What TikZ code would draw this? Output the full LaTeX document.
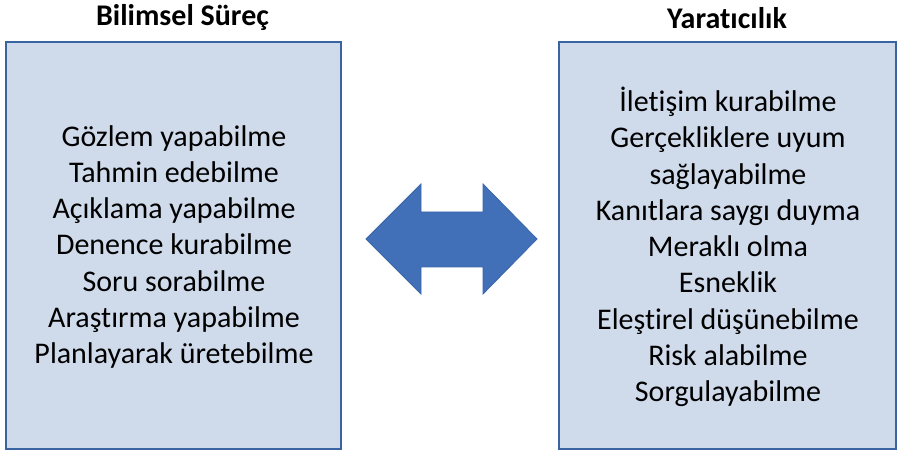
\documentclass[tikz,border=0pt]{standalone}
\usepackage{fontspec}
\setmainfont[Ligatures=NoCommon]{Carlito}
\definecolor{boxfill}{HTML}{CFDAEB}
\definecolor{boxline}{HTML}{3A64A0}
\definecolor{arrowfill}{HTML}{4170B8}
\definecolor{arrowline}{HTML}{3A66A8}
\tikzset{
  panel/.style={draw=boxline, fill=boxfill, line width=2.5pt},
  title/.style={font=\bfseries\fontsize{30}{36}\selectfont, inner sep=0pt},
  items/.style={font=\fontsize{30}{36.3}\selectfont, align=center, inner sep=0pt},
}
\begin{document}
\begin{tikzpicture}[x=1pt,y=1pt]
\useasboundingbox (0,0) rectangle (898,455);
\draw[panel] (6,6) rectangle (341,413);
\draw[panel] (559,6) rectangle (896,413);
\node[title] (t1) at (182.5,437) {Bilimsel Süreç};
\node[title] (t2) at (727,437) {Yaratıcılık};
\node[items] (l1) at (174,208) {Gözlem yapabilme\\Tahmin edebilme\\Açıklama yapabilme\\Denence kurabilme\\Soru sorabilme\\Araştırma yapabilme\\Planlayarak üretebilme};
\node[items] (r1) at (728,208) {İletişim kurabilme\\Gerçekliklere uyum\\sağlayabilme\\Kanıtlara saygı duyma\\Meraklı olma\\Esneklik\\Eleştirel düşünebilme\\Risk alabilme\\Sorgulayabilme};
\draw[draw=arrowline, fill=arrowfill, line width=0.8pt, line join=miter]
  (366,216) -- (421,271) -- (421,243) -- (483,243) -- (483,271) -- (537,216)
  -- (483,161) -- (483,188) -- (421,188) -- (421,161) -- cycle;
\end{tikzpicture}
\end{document}
